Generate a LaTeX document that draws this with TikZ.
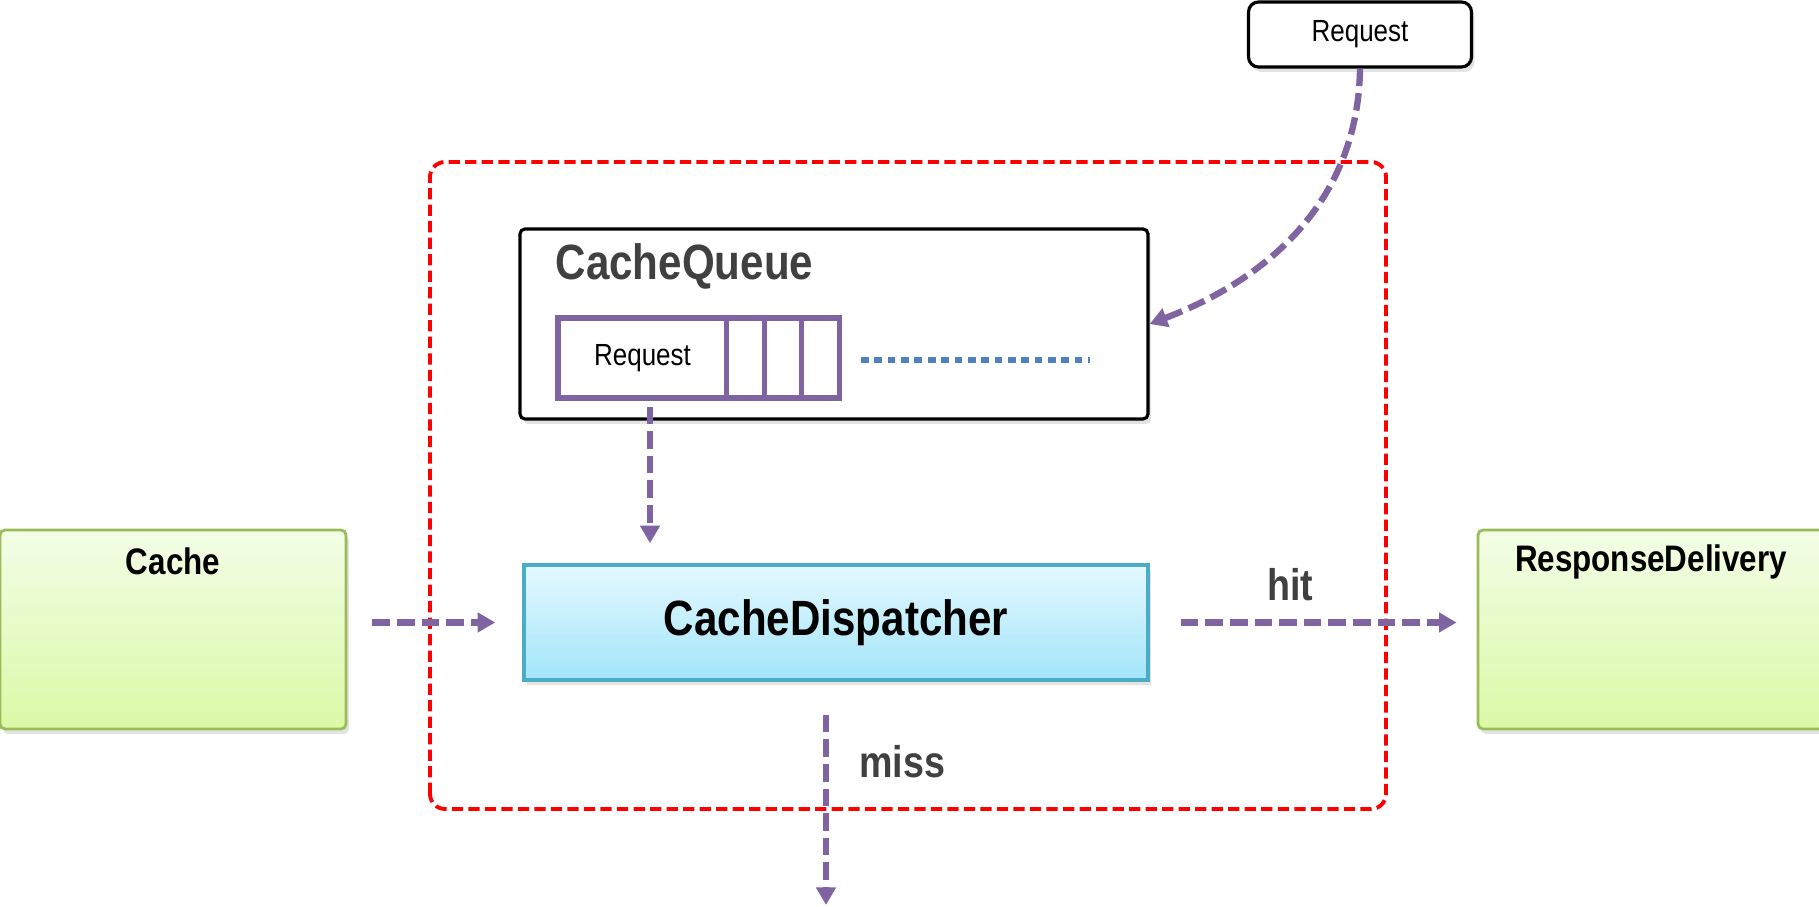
\documentclass[tikz,border=0pt]{standalone}
\usepackage{fontspec}
\setmainfont{Liberation Sans}[FakeStretch=0.85]
\usepackage{tikz}
\usetikzlibrary{arrows.meta}
\usetikzlibrary{shadows}

\definecolor{flowpurple}{HTML}{8064A2}
\definecolor{dotblue}{HTML}{4F81BD}
\definecolor{greenedge}{HTML}{9BBB59}
\definecolor{greentop}{HTML}{F3FDE6}
\definecolor{greenbot}{HTML}{DAF9A6}
\definecolor{cyanedge}{HTML}{4BACC6}
\definecolor{cyantop}{HTML}{E4F8FE}
\definecolor{cyanbot}{HTML}{A3E5FA}
\definecolor{labelgray}{HTML}{404040}

\tikzset{
	flow/.style={draw=flowpurple, line width=1.8pt, dash pattern=on 5pt off 2pt,
		-{Triangle[length=5pt,width=5.4pt]}},
	softshadow/.style={drop shadow={shadow xshift=0.03cm, shadow yshift=-0.05cm, opacity=0.22}},
	greenbox/.style={draw=greenedge, line width=0.8pt, rounded corners=0.05cm,
		top color=greentop, bottom color=greenbot,
		minimum width=3.46cm, minimum height=1.99cm, softshadow},
	boxtitle/.style={font=\fontsize{10.5}{12.6}\selectfont\bfseries, inner sep=0pt},
	flowlabel/.style={font=\fontsize{12.6}{15}\selectfont\bfseries, text=labelgray, inner sep=0pt},
	cell/.style={draw=flowpurple, line width=1.5pt, fill=white, minimum height=0.80cm,
		inner sep=0pt, font=\fontsize{8.7}{10.4}\selectfont}
}

\begin{document}
\begin{tikzpicture}

	\clip (0,0) rectangle (18.19,9.07);

	% the dispatcher thread
	\draw[red, line width=1.1pt, dash pattern=on 3.2pt off 1.5pt, rounded corners=0.15cm]
		(4.30,0.98) rectangle (13.86,7.45);

	\node[draw, line width=0.9pt, fill=white, rounded corners=0.1cm, softshadow,
		minimum width=2.23cm, minimum height=0.65cm, font=\fontsize{8.7}{10.4}\selectfont]
		(req) at (13.60,8.725) {Request};

	\node[draw, line width=0.9pt, fill=white, rounded corners=0.05cm, softshadow,
		minimum width=6.28cm, minimum height=1.90cm] (queue) at (8.34,5.83) {};
	\node[font=\fontsize{14.1}{17}\selectfont\bfseries, text=labelgray, inner sep=0pt, anchor=west]
		(qtitle) at (5.55,6.41) {CacheQueue};

	\node[cell, minimum width=1.69cm] (reqcell) at (6.425,5.49) {Request};
	\foreach \x [count=\i] in {7.455, 7.83, 8.205}
		\node[cell, minimum width=0.375cm] (cell\i) at (\x,5.49) {};
	\draw[dotblue, line width=1.9pt, dash pattern=on 2.2pt off 1.6pt] (8.61,5.47) -- (10.90,5.47);

	\node[draw=cyanedge, line width=1pt, top color=cyantop, bottom color=cyanbot, softshadow,
		minimum width=6.24cm, minimum height=1.15cm, font=\fontsize{14.1}{17}\selectfont\bfseries]
		(disp) at (8.36,2.845) {CacheDispatcher};

	\node[greenbox, label={[boxtitle, anchor=center, yshift=-0.33cm]north:Cache}]
		(cache) at (1.73,2.775) {};
	\node[greenbox, label={[boxtitle, anchor=center, yshift=-0.33cm]north:ResponseDelivery}]
		(resp) at (16.51,2.775) {};

	% requests in and out
	\draw[flow] (req.south) .. controls (13.58,7.0) and (12.6,6.25) .. (queue.east);
	\draw[flow, shorten <=0.06cm, shorten >=0.2cm]
		([xshift=0.075cm]reqcell.south) -- ([xshift=0.075cm]reqcell.south |- disp.north);
	\draw[flow, shorten <=0.25cm, shorten >=0.27cm] (cache.east |- disp.west) -- (disp.west);
	\draw[flow, shorten <=0.31cm, shorten >=0.2cm] (disp.east) -- (disp.east -| resp.west)
		node[flowlabel, pos=0.43, above=0.18cm] (hit) {hit};

	\coordinate (missend) at (8.26,0.02);
	\draw[flow, shorten <=0.33cm] (disp.south -| missend) -- (missend)
		node[flowlabel, pos=0.36, right=0.3cm] (miss) {miss};

\end{tikzpicture}
\end{document}
